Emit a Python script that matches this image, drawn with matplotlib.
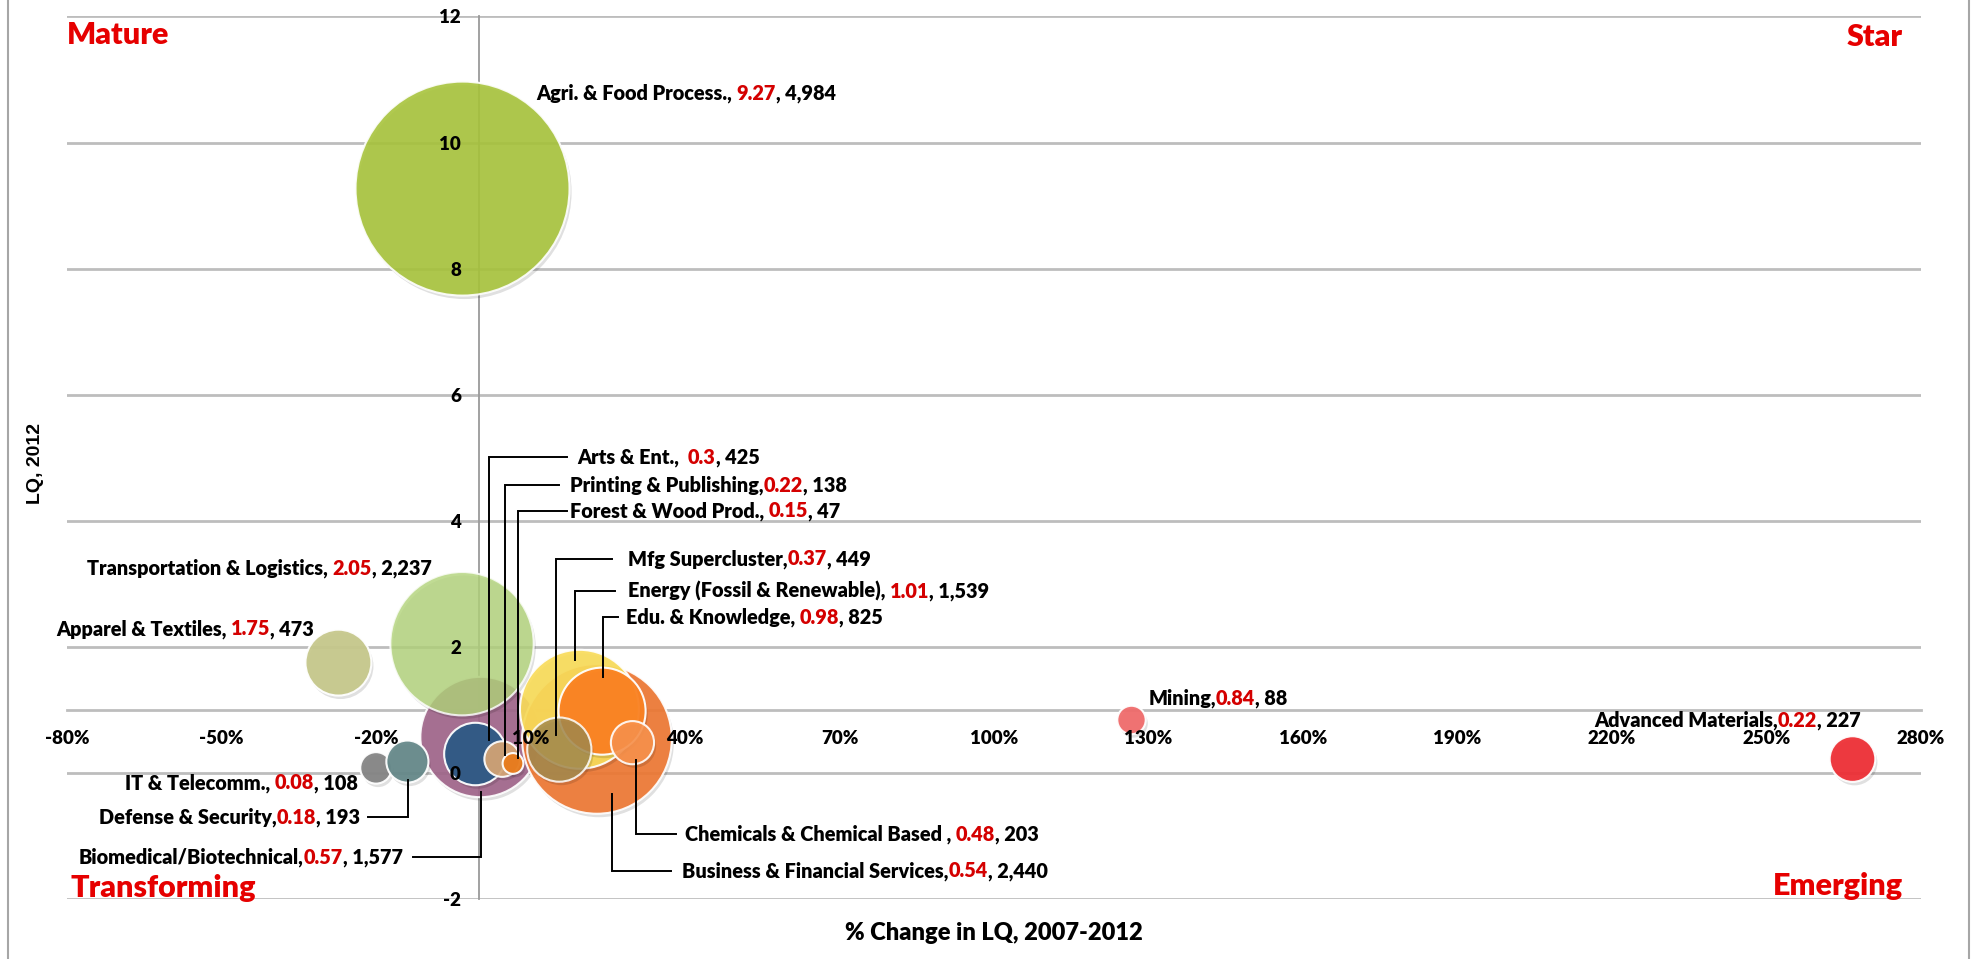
import matplotlib
matplotlib.use('Agg')
import matplotlib.pyplot as plt
import matplotlib.patheffects as pe
from matplotlib.transforms import offset_copy
from matplotlib.lines import Line2D
import numpy as np

plt.rcParams['font.family'] = ['Lato', 'DejaVu Sans']
plt.rcParams['axes.unicode_minus'] = False

# data
sectors = ['Agri. & Food Process.', 'Transportation & Logistics', 'Apparel & Textiles',
           'Biomedical/Biotechnical', 'Arts & Ent.', 'Printing & Publishing',
           'Forest & Wood Prod.', 'Mfg Supercluster', 'Energy (Fossil & Renewable)',
           'Edu. & Knowledge', 'Business & Financial Services', 'Chemicals & Chemical Based ',
           'IT & Telecomm.', 'Defense & Security', 'Mining', 'Advanced Materials']
pct_change = [-3.2, -3.3, -27.3, 0.3, -0.7, 4.5, 6.6, 15.6, 19.5, 23.9, 22.9, 29.8,
              -20.0, -13.9, 126.7, 266.7]
lq_2012 = [9.27, 2.05, 1.75, 0.57, 0.3, 0.22, 0.15, 0.37, 1.01, 0.98, 0.54, 0.48,
           0.08, 0.18, 0.84, 0.22]
employment = [4984, 2237, 473, 1577, 425, 138, 47, 449, 1539, 825, 2440, 203,
              108, 193, 88, 227]

x_ticks = list(range(-80, 281, 30))
y_ticks = list(range(-2, 13, 2))

colors = {
    'Agri. & Food Process.': ('#A8C43C', 0.9),
    'Transportation & Logistics': ('#B3D47C', 0.82),
    'Apparel & Textiles': ('#C6C88C', 0.95),
    'Biomedical/Biotechnical': ('#A0668A', 0.92),
    'Arts & Ent.': ('#2E5A86', 0.95),
    'Printing & Publishing': ('#D6A676', 0.92),
    'Forest & Wood Prod.': ('#E97C1C', 0.95),
    'Mfg Supercluster': ('#A48A4E', 0.85),
    'Energy (Fossil & Renewable)': ('#F9DC5A', 0.92),
    'Edu. & Knowledge': ('#FB8222', 0.95),
    'Business & Financial Services': ('#EE7833', 0.92),
    'Chemicals & Chemical Based ': ('#F9924C', 0.9),
    'IT & Telecomm.': ('#858585', 0.95),
    'Defense & Security': ('#66898A', 0.95),
    'Mining': ('#F06C6C', 0.95),
    'Advanced Materials': ('#EE3036', 0.95),
}

# bottom -> top drawing order
draw_order = ['Biomedical/Biotechnical', 'Business & Financial Services',
              'Energy (Fossil & Renewable)', 'Edu. & Knowledge', 'Transportation & Logistics',
              'Agri. & Food Process.', 'Apparel & Textiles', 'Arts & Ent.',
              'Printing & Publishing', 'Forest & Wood Prod.', 'Mfg Supercluster',
              'Chemicals & Chemical Based ', 'IT & Telecomm.', 'Defense & Security',
              'Mining', 'Advanced Materials']

# label layout: x, y, alignment, separator, leader (x of vertical, y start, x end)
labels = {
    'Agri. & Food Process.': (11.1, 10.79, 'left', ', ', None),
    'Transportation & Logistics': (-9.2, 3.25, 'right', ', ', None),
    'Apparel & Textiles': (-32.0, 2.29, 'right', ', ', None),
    'Biomedical/Biotechnical': (-14.8, -1.33, 'right', ',', (0.4, -0.3, -12.8)),
    'Arts & Ent.': (19.0, 5.01, 'left', ',  ', (2.0, 0.52, 17.0)),
    'Printing & Publishing': (17.7, 4.57, 'left', ',', (5.1, 0.28, 15.6)),
    'Forest & Wood Prod.': (17.7, 4.16, 'left', ', ', (7.6, 0.23, 17.0)),
    'Mfg Supercluster': (28.9, 3.40, 'left', ',', (14.9, 0.6, 25.9)),
    'Energy (Fossil & Renewable)': (28.9, 2.89, 'left', ', ', (18.6, 1.79, 26.4)),
    'Edu. & Knowledge': (28.5, 2.47, 'left', ', ', (24.1, 1.52, 26.9)),
    'Business & Financial Services': (39.4, -1.55, 'left', ',', (25.9, -0.33, 37.2)),
    'Chemicals & Chemical Based ': (40.0, -0.97, 'left', ', ', (30.5, 0.2, 38.2)),
    'IT & Telecomm.': (-23.5, -0.15, 'right', ', ', None),
    'Defense & Security': (-23.1, -0.70, 'right', ',', (-13.8, -0.12, -21.5)),
    'Mining': (130.0, 1.19, 'left', ',', None),
    'Advanced Materials': (216.6, 0.84, 'left', ',', None),
}

W, H, DPI = 1978, 959, 100
fig = plt.figure(figsize=(W / DPI, H / DPI), dpi=DPI)
ax = fig.add_axes([67 / W, 60 / H, 1854 / W, 882.5 / H])
ax.set_xlim(-80, 280)
ax.set_ylim(-2, 12)

# gridlines (under the bubbles)
for yv in y_ticks:
    ax.axhline(yv, color='#BDBDBD', lw=2, zorder=0.5)

for side in ['top', 'right']:
    ax.spines[side].set_visible(False)
ax.spines['left'].set_position(('data', 0))
ax.spines['bottom'].set_position(('data', 1))
ax.spines['left'].set_color('#9A9A9A')
ax.spines['left'].set_linewidth(1.3)
ax.spines['bottom'].set_color('#BDBDBD')
ax.spines['bottom'].set_linewidth(2)
ax.spines['left'].set_zorder(0.6)
ax.spines['bottom'].set_zorder(0.6)

ax.set_xticks(x_ticks)
ax.set_xticklabels([f'{t}%' for t in x_ticks])
ax.set_yticks(y_ticks)
ax.tick_params(axis='both', length=0, labelsize=13.5)
ax.tick_params(axis='x', pad=14.5)
ax.tick_params(axis='y', pad=13)
for lab in ax.get_xticklabels() + ax.get_yticklabels():
    lab.set_fontweight('heavy')
ax.xaxis.set_zorder(5)
ax.yaxis.set_zorder(5)

ax.set_xlabel('% Change in LQ, 2007-2012', fontsize=17, fontweight='heavy')
ax.xaxis.set_label_coords(0.5, -0.026)
ax.set_ylabel('LQ, 2012', fontsize=14, fontweight='bold', family=['Liberation Sans', 'DejaVu Sans'])
ax.yaxis.set_label_coords(-0.0124, 0.493)

# bubbles: area proportional to employment, largest radius ~107 px
max_emp = max(employment)
r_max_pt = 107 * 72 / DPI
shadow = [pe.SimplePatchShadow(offset=(1.5, -2.5), shadow_rgbFace='black', alpha=0.12), pe.Normal()]
for name in draw_order:
    i = sectors.index(name)
    col, alpha = colors[name]
    s = (2 * r_max_pt) ** 2 * employment[i] / max_emp
    sc = ax.scatter(pct_change[i], lq_2012[i], s=s, color=col, alpha=alpha,
                    edgecolors='white', linewidths=1.5, zorder=2)
    sc.set_path_effects(shadow)

# multi-colour labels
FS = 14.3
WEIGHT = 'heavy'
renderer = fig.canvas.get_renderer()


def text_width(s):
    t = ax.text(0, 0, s, fontsize=FS, fontweight=WEIGHT)
    w = t.get_window_extent(renderer).width
    t.remove()
    return w


def rich_label(x, y, parts, ha):
    full = ''.join(p for p, _ in parts)
    start = 0 if ha == 'left' else -text_width(full)
    prefix = ''
    dy = -0.34 * FS * DPI / 72
    for s, c in parts:
        prefix += s
        dx = start + text_width(prefix) - text_width(s)
        ax.text(x, y, s, color=c, fontsize=FS, fontweight=WEIGHT, ha='left', va='baseline',
                transform=offset_copy(ax.transData, fig=fig, x=dx, y=dy, units='dots'),
                zorder=6)


for i, name in enumerate(sectors):
    lx, ly, ha, sep, leader = labels[name]
    parts = [(name + sep, 'black'), (f'{lq_2012[i]:g}', '#D40000'),
             (f', {employment[i]:,}', 'black')]
    rich_label(lx, ly, parts, ha)
    if leader is not None:
        vx, y0, hx = leader
        ax.plot([vx, vx, hx], [y0, ly, ly], color='black', lw=1.4, zorder=4,
                solid_joinstyle='miter')

# quadrant names
quad_kw = dict(color='#E60000', fontsize=22, fontweight='heavy', va='center', zorder=6)
ax.text(-80, 11.7, 'Mature', ha='left', **quad_kw)
ax.text(276.4, 11.67, 'Star', ha='right', **quad_kw)
ax.text(-79.4, -1.82, 'Transforming', ha='left', **quad_kw)
ax.text(276.6, -1.79, 'Emerging', ha='right', **quad_kw)

# chart-area border
for xb in (8, 1969):
    fig.add_artist(Line2D([xb / W, xb / W], [0, 1], color='#A6A6A6', lw=1.5,
                          transform=fig.transFigure))

fig.savefig('out.png', dpi=DPI)
